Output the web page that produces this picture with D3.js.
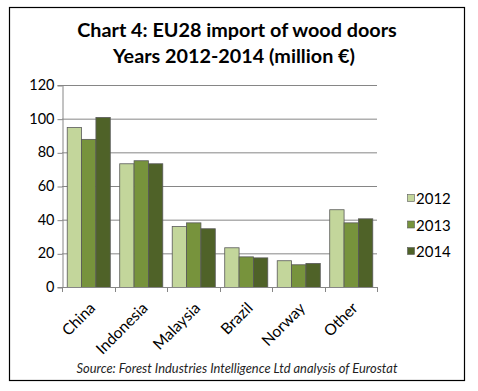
<!DOCTYPE html>
<html><head><meta charset="utf-8">
<script src="https://cdn.jsdelivr.net/npm/d3@7"></script>
<style>body{margin:0;background:#fff}svg{display:block}text{font-family:Lato,"Open Sans",sans-serif}</style>
</head><body>
<svg id="c" width="478" height="391"></svg>
<script>
const categories = ["China","Indonesia","Malaysia","Brazil","Norway","Other"];
const years = ["2012","2013","2014"];
const v2012 = [95, 73.5, 36.2, 23.6, 15.9, 46.2];
const v2013 = [88, 75.3, 38.4, 18.2, 13.5, 38.4];
const v2014 = [101, 73.5, 34.9, 17.6, 14.3, 40.8];
const yTicks = [0,20,40,60,80,100,120];
const colors = ["#c3d69b","#77933c","#4f6228"];
const series = [v2012, v2013, v2014];

const svg = d3.select("#c");
svg.append("rect").attr("x",9.5).attr("y",7.5).attr("width",455).attr("height",373)
  .attr("fill","#fff").attr("stroke","#000").attr("stroke-width",1.2);

svg.append("text").attr("x",237).attr("y",37).attr("text-anchor","middle")
  .attr("font-weight","bold").attr("font-size",19.8).attr("fill","#000")
  .text("Chart 4: EU28 import of wood doors");
svg.append("text").attr("x",234).attr("y",63).attr("text-anchor","middle")
  .attr("font-weight","bold").attr("font-size",19.8).attr("fill","#000")
  .text("Years 2012-2014 (million €)");

const L=62, R=377, T=85, B=287;
const x = d3.scaleBand().domain(categories).range([L,R]).paddingInner(0.18).paddingOuter(0.09);
const xi = d3.scaleBand().domain(years).range([0,x.bandwidth()]);
const y = d3.scaleLinear().domain([0,120]).range([B,T]);

// gridlines
svg.append("g").selectAll("line").data(yTicks.filter(d=>d>0)).join("line")
  .attr("x1",L).attr("x2",R).attr("y1",d=>y(d)+0.5).attr("y2",d=>y(d)+0.5)
  .attr("stroke","#868686").attr("stroke-width",1);

// y axis
const ya = svg.append("g").attr("transform",`translate(${L+0.5},0)`)
  .call(d3.axisLeft(y).tickValues(yTicks).tickSize(5).tickPadding(3));
ya.select(".domain").attr("stroke","#868686");
ya.selectAll(".tick line").attr("stroke","#868686").attr("transform","translate(0,0.5)");
ya.selectAll(".tick text").attr("font-size",14.5).attr("fill","#000").attr("font-family","Lato,sans-serif");

// bars
const g = svg.append("g");
series.forEach((vals,si)=>{
  g.selectAll(null).data(categories).join("rect")
    .attr("x",c=>x(c)+xi(years[si])+0.5)
    .attr("y",(c,i)=>y(vals[i])+0.5)
    .attr("width",xi.bandwidth())
    .attr("height",(c,i)=>B-y(vals[i]))
    .attr("fill",colors[si]).attr("stroke","#595959").attr("stroke-width",0.8);
});

// x axis
const step = (R-L)/categories.length;
const bounds = d3.range(categories.length+1).map(i=>L+i*step);
svg.append("line").attr("x1",L).attr("x2",R).attr("y1",B+0.5).attr("y2",B+0.5).attr("stroke","#868686");
svg.append("g").selectAll("line").data(bounds).join("line")
  .attr("x1",d=>Math.round(d)+0.5).attr("x2",d=>Math.round(d)+0.5).attr("y1",B).attr("y2",B+5)
  .attr("stroke","#868686");
svg.append("g").selectAll("text").data(categories).join("text")
  .attr("transform",c=>`translate(${x(c)+x.bandwidth()/2+8},${B+22}) rotate(-45)`)
  .attr("text-anchor","end").attr("font-size",15.5).attr("fill","#000").text(c=>c);

// legend
const lg = svg.append("g");
years.forEach((yr,i)=>{
  const cy = 199 + i*26.5;
  lg.append("rect").attr("x",407.5).attr("y",cy-4.5).attr("width",7).attr("height",7)
    .attr("fill",colors[i]).attr("stroke","#595959").attr("stroke-width",0.6);
  lg.append("text").attr("x",416).attr("y",cy+5).attr("font-size",15).attr("fill","#000").text(yr);
});

svg.append("text").attr("x",237).attr("y",373).attr("text-anchor","middle")
  .attr("font-style","italic").attr("font-size",12.9).attr("fill","#1f1f1f")
  .text("Source: Forest Industries Intelligence Ltd analysis of Eurostat");
</script>
</body></html>
